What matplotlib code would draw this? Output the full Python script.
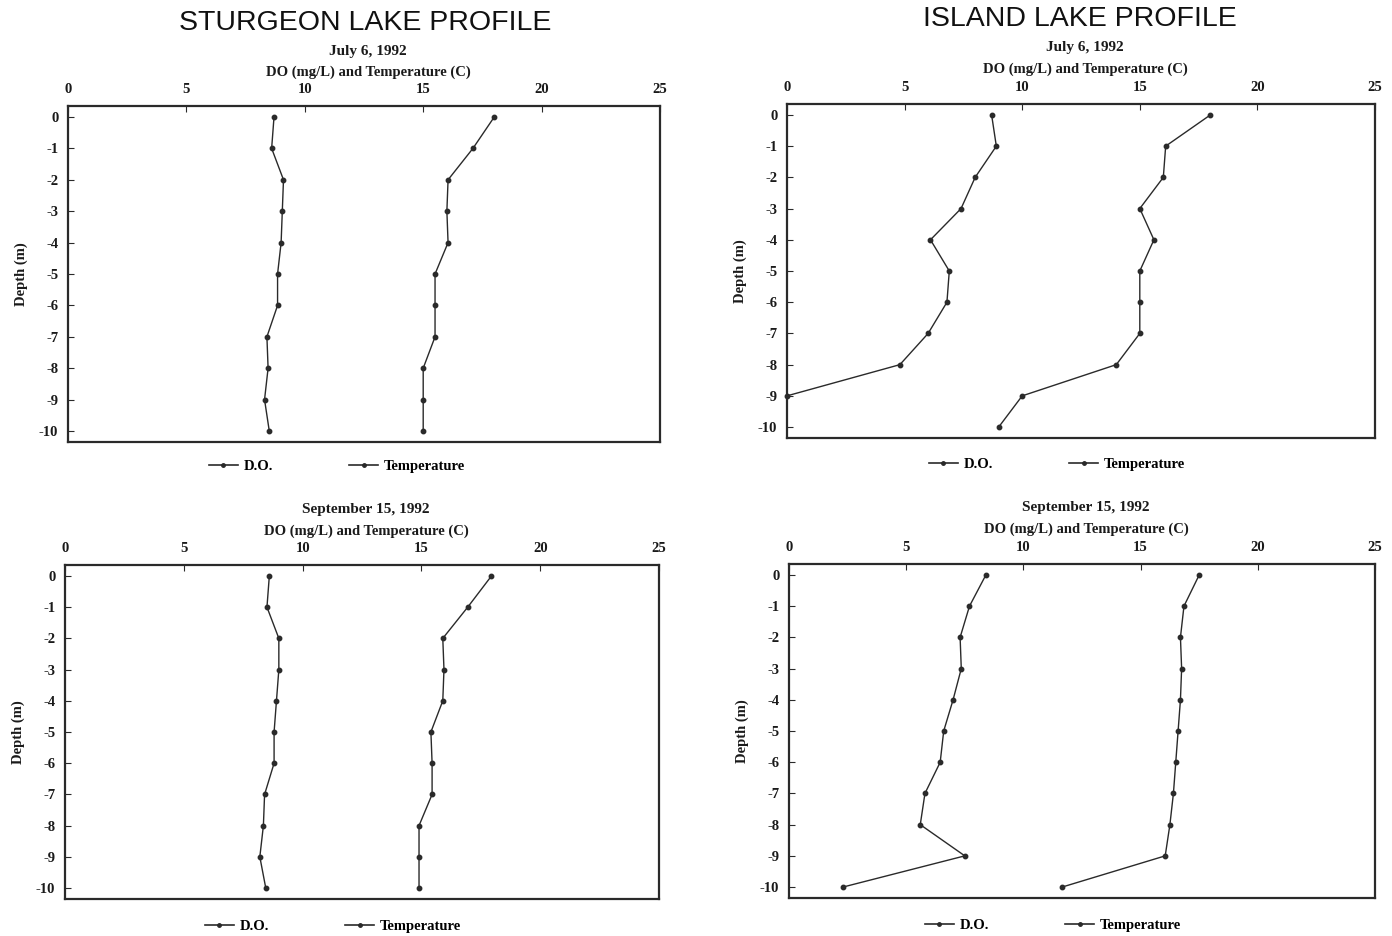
import numpy as np
import matplotlib
matplotlib.use("Agg")
import matplotlib.pyplot as plt
from matplotlib.lines import Line2D

plt.rcParams['axes.unicode_minus'] = False

depth = [0, -1, -2, -3, -4, -5, -6, -7, -8, -9, -10]

sturgeon_jul_do = [8.7, 8.6, 9.1, 9.05, 9.0, 8.85, 8.85, 8.4, 8.45, 8.3, 8.5]
sturgeon_jul_temp = [18.0, 17.1, 16.05, 16.0, 16.05, 15.5, 15.5, 15.5, 15.0, 15.0, 15.0]
island_jul_do = [8.7, 8.9, 8.0, 7.4, 6.1, 6.9, 6.8, 6.0, 4.8, 0.0, np.nan]
island_jul_temp = [18.0, 16.1, 16.0, 15.0, 15.6, 15.0, 15.0, 15.0, 14.0, 10.0, 9.0]
sturgeon_sep_do = [8.6, 8.5, 9.0, 9.0, 8.9, 8.8, 8.8, 8.4, 8.35, 8.2, 8.45]
sturgeon_sep_temp = [17.95, 16.95, 15.9, 15.95, 15.9, 15.4, 15.45, 15.45, 14.9, 14.9, 14.9]
island_sep_do = [8.4, 7.7, 7.3, 7.35, 7.0, 6.6, 6.45, 5.8, 5.6, 7.5, 2.3]
island_sep_temp = [17.5, 16.85, 16.7, 16.75, 16.7, 16.6, 16.5, 16.4, 16.25, 16.05, 11.65]

x_ticks = [0, 5, 10, 15, 20, 25]
y_ticks = depth
titles = ["STURGEON LAKE PROFILE", "ISLAND LAKE PROFILE"]
dates = ["July 6, 1992", "September 15, 1992"]
axis_title = "DO (mg/L) and Temperature (C)"
ylabel = "Depth (m)"
legend_labels = ["D.O.", "Temperature"]

W, H = 1392, 936
fig = plt.figure(figsize=(W / 100, H / 100), dpi=100)

serif = "Liberation Serif"
sans = "Liberation Sans"
ink = "#2a2a2a"

def frac_rect(left, right, top, bottom):
    return [left / W, 1 - bottom / H, (right - left) / W, (bottom - top) / H]

panels = [
    ((68, 660, 106, 442), sturgeon_jul_do, sturgeon_jul_temp, dates[0], 52, 72, 466, 337),
    ((787, 1375, 104, 438), island_jul_do, island_jul_temp, dates[0], 48, 69, 464, 1057),
    ((65, 659, 565, 899), sturgeon_sep_do, sturgeon_sep_temp, dates[1], 510, 531, 926, 333),
    ((789, 1375, 564, 898), island_sep_do, island_sep_temp, dates[1], 508, 529, 925, 1053),
]

for (l, r, t, b), do, temp, date, dy, ay, ly, lx in panels:
    ax = fig.add_axes(frac_rect(l, r, t, b))
    ax.plot(do, depth, color=ink, lw=1.0, marker='o', ms=3.2, clip_on=False,
            label=legend_labels[0])
    ax.plot(temp, depth, color=ink, lw=1.0, marker='o', ms=3.2, clip_on=False,
            label=legend_labels[1])
    ax.set_xlim(0, 25)
    ax.set_ylim(-10.35, 0.35)
    ax.xaxis.set_ticks_position('top')
    ax.xaxis.set_label_position('top')
    ax.set_xticks(x_ticks)
    ax.set_yticks(y_ticks)
    ax.set_yticklabels([str(v) for v in y_ticks])
    ax.tick_params(axis='both', direction='in', length=4, width=0.8, colors=ink,
                   labelsize=10.5, pad=7)
    for lab in ax.get_xticklabels() + ax.get_yticklabels():
        lab.set_fontfamily(serif)
        lab.set_fontweight('bold')
        lab.set_color('#1a1a1a')
    for s in ax.spines.values():
        s.set_linewidth(1.6)
        s.set_color(ink)
    ax.set_ylabel(ylabel, fontfamily=serif, fontsize=10.5, fontweight='bold',
                  color='#1a1a1a', labelpad=8)
    cx = (l + r) / 2 + 4
    fig.text(cx / W, 1 - dy / H, date, ha='center', va='center',
             fontfamily=serif, fontsize=11, fontweight='bold', color='#1a1a1a')
    fig.text(cx / W, 1 - ay / H, axis_title, ha='center', va='center',
             fontfamily=serif, fontsize=10.5, fontweight='bold', color='#1a1a1a')
    handles = [Line2D([], [], color=ink, lw=1.2, marker='o', ms=2.5),
               Line2D([], [], color=ink, lw=1.2, marker='o', ms=2.5)]
    fig.legend(handles, legend_labels, loc='center',
               bbox_to_anchor=(lx / W, 1 - ly / H), ncol=2, frameon=False,
               handlelength=2.0, handletextpad=0.4, columnspacing=5.2,
               prop={'family': serif, 'size': 10.5, 'weight': 'bold'})

fig.text(365 / W, 1 - 23 / H, titles[0], ha='center', va='center',
         fontfamily=sans, fontsize=20.5, color='#111111')
fig.text(1080 / W, 1 - 19 / H, titles[1], ha='center', va='center',
         fontfamily=sans, fontsize=20.5, color='#111111')

fig.savefig("out.png", dpi=100, facecolor='white')
